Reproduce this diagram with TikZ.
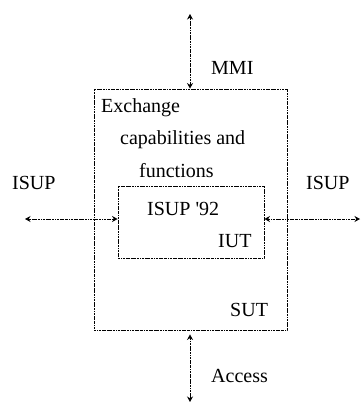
\documentclass[tikz,border=0pt]{standalone}
\usepackage{fontspec}
\setmainfont{Liberation Serif}
\newfontfamily\rawserif{Liberation Serif}
\usetikzlibrary{arrows.meta}
\begin{document}
\begin{tikzpicture}[x=1pt,y=-1pt,
  dd/.style={line width=0.9pt, dash pattern=on 2.4pt off 0.8pt on 0.7pt off 0.8pt},
  boxx/.style={dd, draw, inner sep=0pt},
  con/.style={dd, {Stealth[length=5.5pt,width=6pt]}-{Stealth[length=5.5pt,width=6pt]}},
  lbl/.style={anchor=base west, inner sep=0pt, font=\fontsize{20}{22}\selectfont}]
\useasboundingbox (0,0) rectangle (363,403);
\node[boxx, minimum width=193pt, minimum height=241pt] (outer) at (190.5,209.5) {};
\node[boxx, minimum width=146pt, minimum height=72pt] (inner) at (191,222) {};
\coordinate (mmiTop) at (190,14);
\coordinate (accBot) at (190,402);
\coordinate (lA) at (25,219);
\coordinate (rA) at (360,219);
\draw[con] (mmiTop) -- (mmiTop |- outer.north);
\draw[con] ([yshift=-4pt]accBot |- outer.south) -- (accBot);
\draw[con] (lA) -- (lA -| inner.west);
\draw[con] (inner.east |- rA) -- (rA);
\node[lbl] (mmi) at (211,75) {MMI};
\node[lbl] (ex1) at (101,113) {Exchange};
\node[lbl] (ex2) at (120,145) {capabilities and};
\node[lbl] (ex3) at (139,177) {functions};
\node[lbl] (isupL) at (12,189) {ISUP};
\node[lbl] (isupR) at (306,189) {ISUP};
\node[lbl] (isup92) at (147,215) {\rawserif ISUP '92};
\node[lbl] (iut) at (218,247) {IUT};
\node[lbl] (sut) at (230,316) {SUT};
\node[lbl] (acc) at (211,382) {Access};
\end{tikzpicture}
\end{document}
